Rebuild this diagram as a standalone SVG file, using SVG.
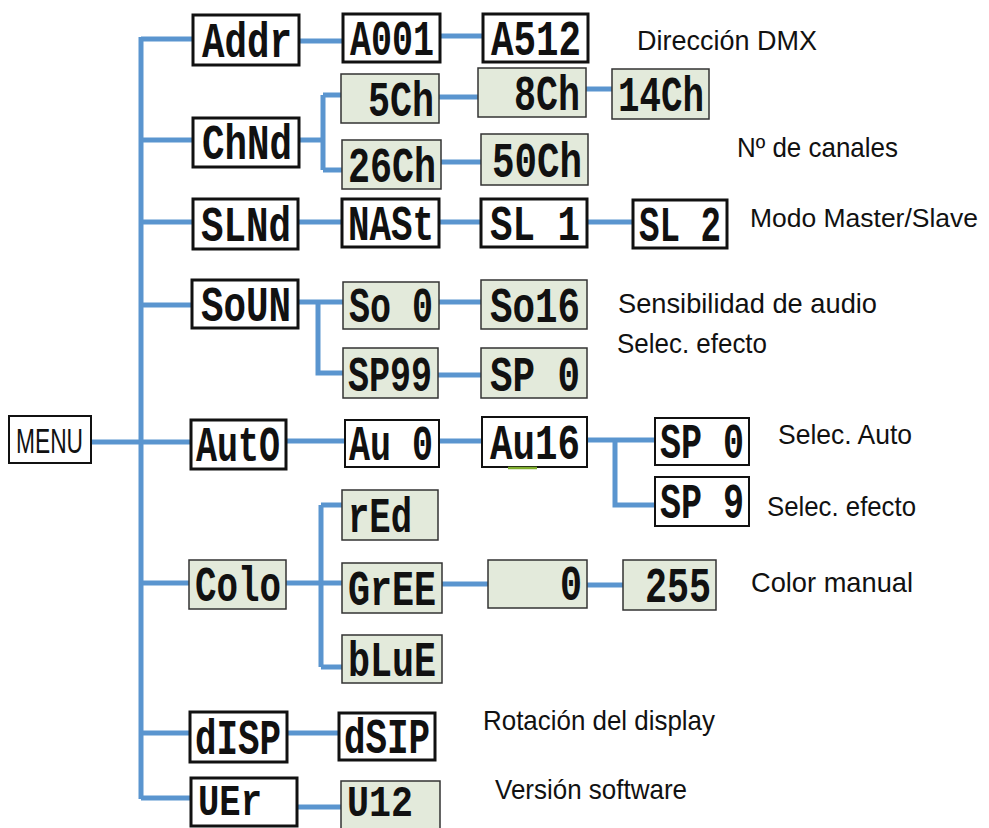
<svg xmlns="http://www.w3.org/2000/svg" width="989" height="828" viewBox="0 0 989 828">
<style>
.bk{fill:#fff;stroke:#111;stroke-width:3}
.bt{fill:#fff;stroke:#111;stroke-width:2}
.gr{fill:#e3eadb;stroke:#333;stroke-width:1.5}
.lcd{font-family:"Liberation Mono","DejaVu Sans Mono",monospace;font-weight:bold;font-size:50px;fill:#111}
.lb{font-family:"Liberation Sans",Arial,sans-serif;font-size:28px;fill:#111}
.cn{fill:none;stroke:#5a95cf;stroke-width:5;stroke-linejoin:miter}
</style>
<g id="connectors">
<path class="cn" d="M141 37V799"/>
<path class="cn" d="M91 442H141M141 39H193M141 140H193M141 222H193M141 305H192M141 442H191M141 583H189M141 733H190M141 798H191"/>
<path class="cn" d="M299 41H343M440 36H483"/>
<path class="cn" d="M299 140H323M323 95V170M323 95H341M323 170H342M439 97H478M586 89H612M441 162H481"/>
<path class="cn" d="M298 222H342M439 222H481M587 222H633"/>
<path class="cn" d="M298 302H343M318 302V373H343M439 302H481M438 375H481"/>
<path class="cn" d="M286 441H345M439 441H482M587 440H655M615 440V505H655"/>
<path class="cn" d="M286 583H342M321 505V667M321 505H342M321 667H342M442 584H488M587 585H623"/>
<path class="cn" d="M287 733H339M297 807H341"/>
</g>
<g id="menu"><rect x="9" y="416" width="82" height="47" fill="#fff" stroke="#111" stroke-width="2"/><text x="16" y="453" font-family="'Liberation Sans Narrow','Liberation Sans',Arial,sans-serif" font-size="35" fill="#111" textLength="67" lengthAdjust="spacingAndGlyphs">MENU</text></g>
<g id="addr"><rect class="bk" x="193" y="15" width="106" height="50"/><text class="lcd" x="202" y="57" textLength="90" lengthAdjust="spacingAndGlyphs">Addr</text></g>
<g id="a001"><rect class="bk" x="343" y="14" width="97" height="48"/><text class="lcd" x="350" y="55" textLength="84" lengthAdjust="spacingAndGlyphs">A001</text></g>
<g id="a512"><rect class="bk" x="483" y="14" width="105" height="48"/><text class="lcd" x="491" y="55" textLength="90" lengthAdjust="spacingAndGlyphs">A512</text></g>
<g id="chnd"><rect class="bk" x="193" y="118" width="106" height="49"/><text class="lcd" x="202" y="159" textLength="90" lengthAdjust="spacingAndGlyphs">ChNd</text></g>
<g id="c5"><rect class="gr" x="341" y="74" width="98" height="49"/><text class="lcd" x="368" y="116" textLength="66" lengthAdjust="spacingAndGlyphs">5Ch</text></g>
<g id="c8"><rect class="gr" x="478" y="68" width="108" height="49"/><text class="lcd" x="514" y="110" textLength="66" lengthAdjust="spacingAndGlyphs">8Ch</text></g>
<g id="c14"><rect class="gr" x="612" y="69" width="97" height="50"/><text class="lcd" x="618" y="111" textLength="86" lengthAdjust="spacingAndGlyphs">14Ch</text></g>
<g id="c26"><rect class="gr" x="342" y="140" width="99" height="49"/><text class="lcd" x="348" y="182" textLength="88" lengthAdjust="spacingAndGlyphs">26Ch</text></g>
<g id="c50"><rect class="gr" x="481" y="134" width="107" height="51"/><text class="lcd" x="492" y="177" textLength="90" lengthAdjust="spacingAndGlyphs">50Ch</text></g>
<g id="slnd"><rect class="bk" x="193" y="199" width="105" height="50"/><text class="lcd" x="201" y="241" textLength="90" lengthAdjust="spacingAndGlyphs">SLNd</text></g>
<g id="mast"><rect class="bk" x="342" y="199" width="97" height="48"/><text class="lcd" x="348" y="240" textLength="86" lengthAdjust="spacingAndGlyphs">NASt</text></g>
<g id="sl1"><rect class="bk" x="481" y="199" width="106" height="48"/><text class="lcd" x="490" y="240" textLength="90" lengthAdjust="spacingAndGlyphs" xml:space="preserve">SL 1</text></g>
<g id="sl2"><rect class="bk" x="633" y="200" width="94" height="48"/><text class="lcd" x="639" y="241" textLength="82" lengthAdjust="spacingAndGlyphs" xml:space="preserve">SL 2</text></g>
<g id="soun"><rect class="bk" x="192" y="280" width="106" height="48"/><text class="lcd" x="201" y="321" textLength="90" lengthAdjust="spacingAndGlyphs">SoUN</text></g>
<g id="so0"><rect class="gr" x="343" y="282" width="96" height="47"/><text class="lcd" x="349" y="322" textLength="84" lengthAdjust="spacingAndGlyphs" xml:space="preserve">So 0</text></g>
<g id="so16"><rect class="gr" x="481" y="280" width="106" height="49"/><text class="lcd" x="490" y="322" textLength="90" lengthAdjust="spacingAndGlyphs">So16</text></g>
<g id="sp99"><rect class="gr" x="343" y="348" width="95" height="50"/><text class="lcd" x="348" y="391" textLength="84" lengthAdjust="spacingAndGlyphs">SP99</text></g>
<g id="sp0a"><rect class="gr" x="481" y="348" width="106" height="50"/><text class="lcd" x="490" y="391" textLength="90" lengthAdjust="spacingAndGlyphs" xml:space="preserve">SP 0</text></g>
<g id="auto"><rect class="bk" x="191" y="420" width="95" height="49"/><text class="lcd" x="196" y="461" textLength="84" lengthAdjust="spacingAndGlyphs">AutO</text></g>
<g id="au0"><rect class="bt" x="345" y="420" width="94" height="47"/><text class="lcd" x="349" y="460" textLength="84" lengthAdjust="spacingAndGlyphs" xml:space="preserve">Au 0</text></g>
<g id="au16"><rect class="bt" x="482" y="417" width="105" height="50"/><line x1="508" y1="468" x2="537" y2="468" stroke="#7fae2e" stroke-width="2.5"/><text class="lcd" x="490" y="459" textLength="90" lengthAdjust="spacingAndGlyphs">Au16</text></g>
<g id="sp0b"><rect class="bt" x="655" y="418" width="94" height="47"/><text class="lcd" x="660" y="458" textLength="84" lengthAdjust="spacingAndGlyphs" xml:space="preserve">SP 0</text></g>
<g id="sp9"><rect class="bt" x="655" y="477" width="94" height="49"/><text class="lcd" x="660" y="518" textLength="84" lengthAdjust="spacingAndGlyphs" xml:space="preserve">SP 9</text></g>
<g id="red"><rect class="gr" x="342" y="490" width="96" height="50"/><text class="lcd" x="348" y="532" textLength="64" lengthAdjust="spacingAndGlyphs">rEd</text></g>
<g id="colo"><rect class="gr" x="189" y="560" width="97" height="49"/><text class="lcd" x="195" y="601" textLength="86" lengthAdjust="spacingAndGlyphs">Colo</text></g>
<g id="gree"><rect class="gr" x="342" y="563" width="100" height="50"/><text class="lcd" x="348" y="605" textLength="88" lengthAdjust="spacingAndGlyphs">GrEE</text></g>
<g id="blue"><rect class="gr" x="342" y="635" width="100" height="48"/><text class="lcd" x="348" y="676" textLength="88" lengthAdjust="spacingAndGlyphs">bLuE</text></g>
<g id="v0"><rect class="gr" x="488" y="560" width="99" height="48"/><text class="lcd" x="560" y="600" textLength="22" lengthAdjust="spacingAndGlyphs">0</text></g>
<g id="v255"><rect class="gr" x="623" y="560" width="93" height="50"/><text class="lcd" x="645" y="602" textLength="66" lengthAdjust="spacingAndGlyphs">255</text></g>
<g id="disp"><rect class="bk" x="190" y="712" width="97" height="50"/><text class="lcd" x="195" y="754" textLength="86" lengthAdjust="spacingAndGlyphs">dISP</text></g>
<g id="dsip"><rect class="bk" x="339" y="713" width="96" height="47"/><text class="lcd" x="344" y="753" textLength="86" lengthAdjust="spacingAndGlyphs">dSIP</text></g>
<g id="ver"><rect class="bk" x="191" y="778" width="106" height="48"/><text class="lcd" x="198" y="815" style="font-size:44px" textLength="64" lengthAdjust="spacingAndGlyphs">UEr</text></g>
<g id="v12"><rect class="gr" x="341" y="781" width="99" height="50"/><text class="lcd" x="347" y="816" style="font-size:44px" textLength="66" lengthAdjust="spacingAndGlyphs">U12</text></g>
<g id="labels">
<text class="lb" x="637" y="50" textLength="180" lengthAdjust="spacingAndGlyphs">Dirección DMX</text>
<text class="lb" x="737" y="157" textLength="161" lengthAdjust="spacingAndGlyphs">Nº de canales</text>
<text class="lb" x="750" y="227" style="font-size:25px" textLength="228" lengthAdjust="spacingAndGlyphs">Modo Master/Slave</text>
<text class="lb" x="618" y="313" textLength="259" lengthAdjust="spacingAndGlyphs">Sensibilidad de audio</text>
<text class="lb" x="617" y="353" textLength="150" lengthAdjust="spacingAndGlyphs">Selec. efecto</text>
<text class="lb" x="778" y="444" textLength="134" lengthAdjust="spacingAndGlyphs">Selec. Auto</text>
<text class="lb" x="767" y="516" textLength="149" lengthAdjust="spacingAndGlyphs">Selec. efecto</text>
<text class="lb" x="751" y="592" textLength="162" lengthAdjust="spacingAndGlyphs">Color manual</text>
<text class="lb" x="483" y="730" textLength="232" lengthAdjust="spacingAndGlyphs">Rotación del display</text>
<text class="lb" x="495" y="799" textLength="192" lengthAdjust="spacingAndGlyphs">Versión software</text>
</g>
</svg>
